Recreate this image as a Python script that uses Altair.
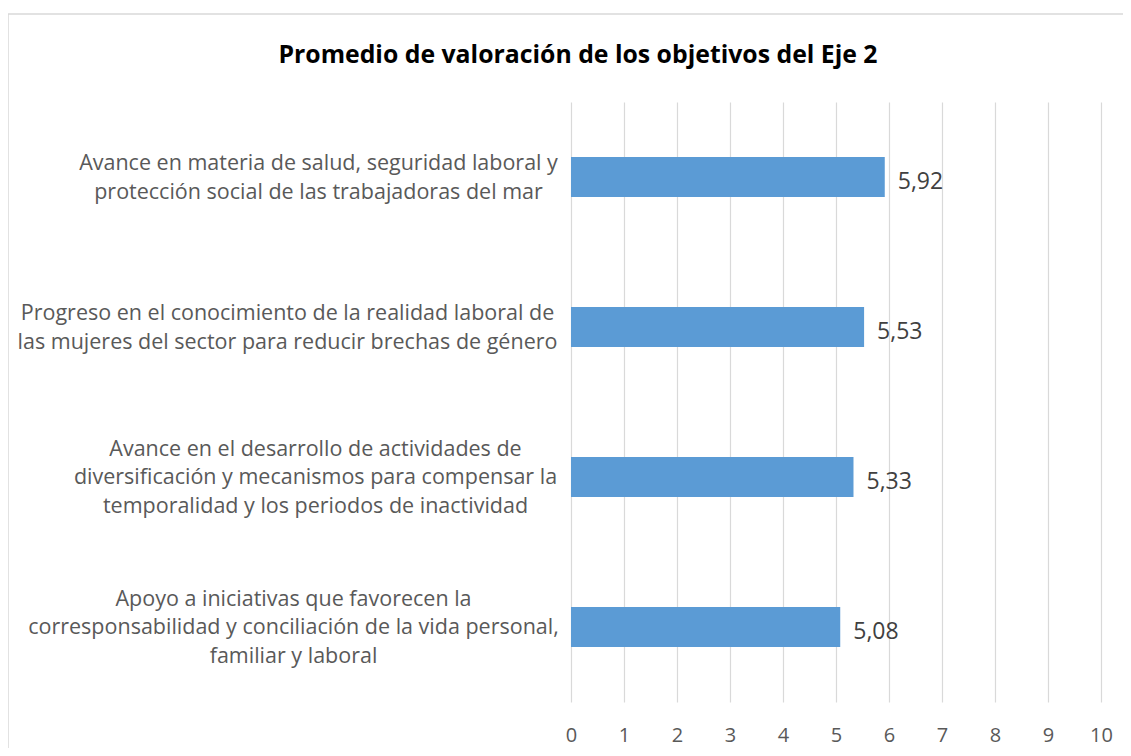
import altair as alt
import pandas as pd

categories = [
    "Avance en materia de salud, seguridad laboral y|protección social de las trabajadoras del mar",
    "Progreso en el conocimiento de la realidad laboral de|las mujeres del sector para reducir brechas de género",
    "Avance en el desarrollo de actividades de|diversificación y mecanismos para compensar la|temporalidad y los periodos de inactividad",
    "Apoyo a iniciativas que favorecen la|corresponsabilidad y conciliación de la vida personal,|familiar y laboral",
]
values = [5.92, 5.53, 5.33, 5.08]
x_ticks = list(range(0, 11))
title_text = "Promedio de valoración de los objetivos del Eje 2"

df = pd.DataFrame({
    "cat": categories,
    "val": values,
    "lbl": [f"{v:.2f}".replace(".", ",") for v in values],
})

FONT = "Open Sans"
LEFT = 563
TOP = 94
LH = 28.5
pads = [253, 284, 256, 278]
pad_cond = [{"test": f"datum.value === {repr(c)}", "value": p} for c, p in zip(categories, pads)]
off_cond = [
    {"test": f"datum.value === {repr(c)}", "value": -(len(c.split('|')) - 1) * LH / 2 + 1.5}
    for c in categories
]

y_enc = alt.Y(
    "cat:N",
    sort=categories,
    title=None,
    scale=alt.Scale(paddingInner=0.733, paddingOuter=0.367),
    axis=alt.Axis(
        labelExpr="split(datum.label, '|')",
        labelAlign="center",
        labelBaseline="middle",
        labelPadding={"condition": pad_cond, "value": 270},
        labelOffset={"condition": off_cond, "value": 0},
        labelFont=FONT,
        labelFontSize=21.5,
        labelColor="#595959",
        labelLineHeight=LH,
        labelLimit=0,
        ticks=False,
        domain=False,
        grid=False,
    ),
)

x_enc = alt.X(
    "val:Q",
    title=None,
    scale=alt.Scale(domain=[0, 10], nice=False),
    axis=alt.Axis(
        values=x_ticks,
        grid=True,
        gridColor="#d9d9d9",
        gridWidth=1.2,
        ticks=False,
        domain=False,
        labelFlush=False,
        labelFont=FONT,
        labelFontSize=20,
        labelColor="#595959",
        labelPadding=23,
    ),
)

base = alt.Chart(df)
bars = base.mark_bar(color="#5b9bd5").encode(x=x_enc, y=y_enc)
texts = base.mark_text(
    align="left", baseline="middle", dx=13, dy=5, font=FONT, fontSize=23, color="#404040"
).encode(x="val:Q", y=alt.Y("cat:N", sort=categories), text="lbl:N")

frame = alt.Chart(pd.DataFrame({"a": [0]}))
border = frame.mark_rect(
    filled=False, stroke="#d9d9d9", strokeWidth=1.5, clip=False
).encode(
    x=alt.value(-LEFT), x2=alt.value(600), y=alt.value(8 - TOP - 2), y2=alt.value(700)
)
title = frame.mark_text(
    text=title_text, font=FONT, fontSize=24.8, fontWeight="bold", color="#000000",
    align="center", baseline="middle", clip=False,
).encode(x=alt.value(578 - 8 - LEFT), y=alt.value(56 - 8 - TOP))

chart = alt.layer(border, bars, texts, title).properties(
    width=530,
    height=600,
    padding={"left": LEFT, "top": TOP, "right": 1131 - 16 - LEFT - 530, "bottom": 756 - 16 - TOP - 600},
    autosize=alt.AutoSizeParams(type="none"),
).configure_view(stroke=None)

chart.save("out.html", embed_options={"renderer": "svg", "actions": False})
